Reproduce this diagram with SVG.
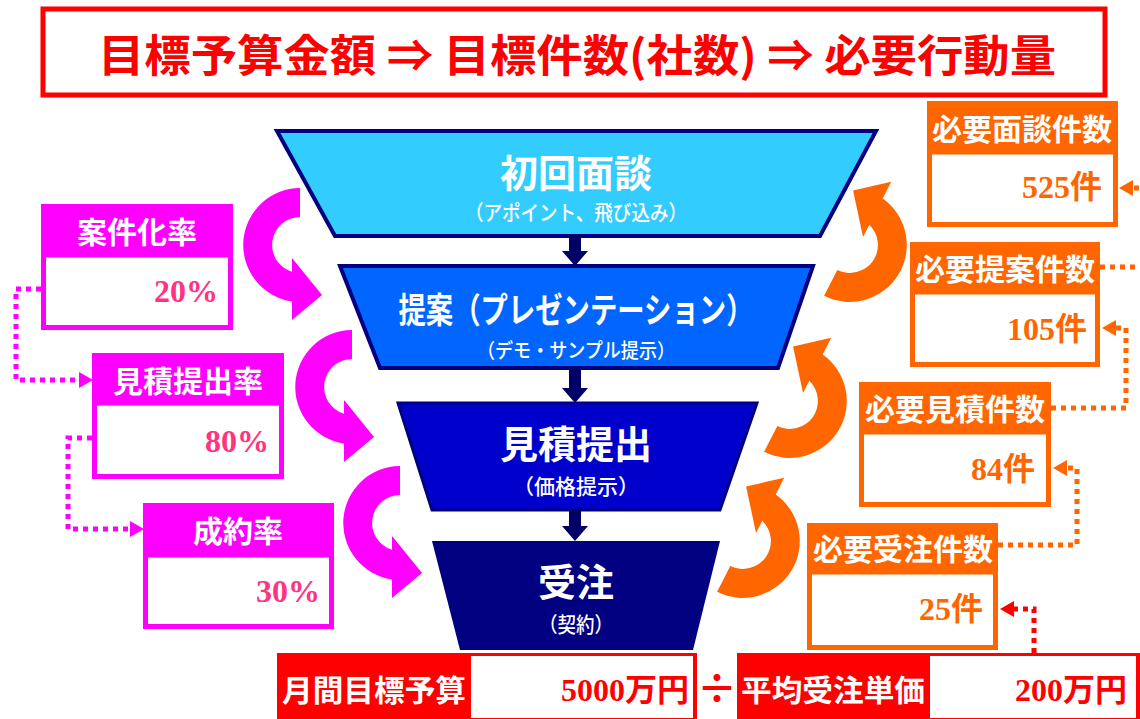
<svg xmlns="http://www.w3.org/2000/svg" width="1140" height="719" viewBox="0 0 1140 719">
<defs>
<style>
.jp{font-family:"Noto Sans CJK JP","Noto Sans CJK SC",sans-serif;}
.hd{font-family:"Noto Sans CJK JP","Noto Sans CJK SC",sans-serif;font-weight:700;fill:#fff;font-size:30px;text-anchor:middle;}
.num{font-family:"Liberation Serif","Noto Sans CJK JP",serif;font-weight:700;font-size:32px;text-anchor:end;}
.ft{font-family:"Noto Sans CJK JP","Noto Sans CJK SC",sans-serif;fill:#fff;text-anchor:middle;}
.dot{fill:none;stroke-width:5;stroke-dasharray:5 5;}
.mbody{fill:#fff;stroke:#FF00FF;stroke-width:5;}
.obody{fill:#fff;stroke:#FF6600;stroke-width:5;}
</style>
<path id="carrow" d="M0,-57 A57,57 0 0 0 -8,56.4 L-8,75 L22,50 L-8,13 L-8,26.8 A28,28 0 0 1 0,-28 Z"/>
<marker id="ahm" markerUnits="userSpaceOnUse" markerWidth="14" markerHeight="16" viewBox="0 0 14 16" refX="0" refY="8" orient="auto"><path d="M0,0 L14,8 L0,16 Z" fill="#FF00FF"/></marker>
<marker id="aho" markerUnits="userSpaceOnUse" markerWidth="14" markerHeight="16" viewBox="0 0 14 16" refX="0" refY="8" orient="auto"><path d="M0,0 L14,8 L0,16 Z" fill="#FF6600"/></marker>
<marker id="ahr" markerUnits="userSpaceOnUse" markerWidth="14" markerHeight="16" viewBox="0 0 14 16" refX="0" refY="8" orient="auto"><path d="M0,0 L14,8 L0,16 Z" fill="#FF0000"/></marker>
</defs>
<rect width="1140" height="719" fill="#fff"/>

<g id="title">
<rect x="43" y="9" width="1062" height="86" fill="#fff" stroke="#FF0000" stroke-width="5"/>
<text class="jp" x="577" y="72" font-size="44" font-weight="700" fill="#FF0000" text-anchor="middle" textLength="958" lengthAdjust="spacingAndGlyphs">目標予算金額 ⇒ 目標件数(社数) ⇒ 必要行動量</text>
</g>

<g id="stage1">
<polygon points="277,131 876,131 820,236 335,236" fill="#33CCFF" stroke="#000080" stroke-width="4"/>
<text class="ft" x="576" y="187" font-size="38" font-weight="700">初回面談</text>
<text class="ft" x="576" y="220" font-size="21" font-weight="500" textLength="222" lengthAdjust="spacingAndGlyphs">（アポイント、飛び込み）</text>
</g>
<g id="stage2">
<polygon points="340,266 813,266 778,368 380,368" fill="#0066FF" stroke="#000080" stroke-width="4"/>
<text class="ft" x="576" y="323" font-size="35" font-weight="700" textLength="355" lengthAdjust="spacingAndGlyphs">提案（プレゼンテーション）</text>
<text class="ft" x="576" y="358" font-size="20" font-weight="500" textLength="198" lengthAdjust="spacingAndGlyphs">（デモ・サンプル提示）</text>
</g>
<g id="stage3">
<polygon points="398,403 757,403 720,510 432,510" fill="#0000CC" stroke="#000080" stroke-width="3"/>
<text class="ft" x="576" y="458" font-size="38" font-weight="700">見積提出</text>
<text class="ft" x="576" y="494" font-size="21" font-weight="500" textLength="126" lengthAdjust="spacingAndGlyphs">（価格提示）</text>
</g>
<g id="stage4">
<polygon points="432,541 720,541 693,650 460,650" fill="#000080"/>
<text class="ft" x="576" y="596" font-size="38" font-weight="700">受注</text>
<text class="ft" x="576" y="632" font-size="21" font-weight="500" textLength="74" lengthAdjust="spacingAndGlyphs">（契約）</text>
</g>

<g id="rate1">
<rect x="41" y="204" width="192" height="52" fill="#FF00FF"/>
<rect class="mbody" x="43.5" y="255" width="187" height="72.5"/>
<text class="hd" x="137" y="243" font-size="32">案件化率</text>
<text class="num" x="218" y="302" fill="#FF3380">20%</text>
</g>
<g id="rate2">
<rect x="92" y="353" width="192" height="51" fill="#FF00FF"/>
<rect class="mbody" x="94.5" y="403" width="187" height="73.5"/>
<text class="hd" x="188" y="392" font-size="32">見積提出率</text>
<text class="num" x="269" y="452" fill="#FF3380">80%</text>
</g>
<g id="rate3">
<rect x="143" y="503" width="191" height="53" fill="#FF00FF"/>
<rect class="mbody" x="145.5" y="555" width="186" height="71.5"/>
<text class="hd" x="238" y="542" font-size="32">成約率</text>
<text class="num" x="320" y="602" fill="#FF3380">30%</text>
</g>

<g id="need1">
<rect x="927" y="101" width="191" height="52" fill="#FF6600"/>
<rect class="obody" x="929.5" y="152" width="186" height="72.5"/>
<text class="hd" x="1022" y="140">必要面談件数</text>
<text class="num" x="1102" y="198" fill="#FF6600">525件</text>
</g>
<g id="need2">
<rect x="910" y="242" width="190" height="51" fill="#FF6600"/>
<rect class="obody" x="912.5" y="292" width="185" height="72.5"/>
<text class="hd" x="1005" y="280">必要提案件数</text>
<text class="num" x="1087" y="340" fill="#FF6600">105件</text>
</g>
<g id="need3">
<rect x="859" y="382" width="192" height="51" fill="#FF6600"/>
<rect class="obody" x="861.5" y="432" width="187" height="72.5"/>
<text class="hd" x="955" y="420">必要見積件数</text>
<text class="num" x="1035" y="480" fill="#FF6600">84件</text>
</g>
<g id="need4">
<rect x="807" y="523" width="191" height="50" fill="#FF6600"/>
<rect class="obody" x="809.5" y="572" width="186" height="75.5"/>
<text class="hd" x="903" y="560">必要受注件数</text>
<text class="num" x="983" y="620" fill="#FF6600">25件</text>
</g>

<g id="budget">
<rect x="277" y="653" width="420" height="70" fill="#FF0000"/>
<rect x="471" y="656" width="222" height="62" fill="#fff"/>
<text class="hd" x="374" y="701" textLength="184" lengthAdjust="spacingAndGlyphs">月間目標予算</text>
<text class="num" x="689" y="701" fill="#FF0000" font-size="30">5000万円</text>
</g>
<g id="divide">
<text class="jp" x="717" y="703" font-size="40" font-weight="700" fill="#FF0000" text-anchor="middle">÷</text>
</g>
<g id="unitprice">
<rect x="737" y="653" width="410" height="70" fill="#FF0000"/>
<rect x="930" y="656" width="206" height="62" fill="#fff"/>
<text class="hd" x="833" y="701" textLength="184" lengthAdjust="spacingAndGlyphs">平均受注単価</text>
<text class="num" x="1127" y="701" fill="#FF0000" font-size="30">200万円</text>
</g>

<g id="connectors">
<g fill="#000066">
<path d="M569,236 H581 V251 H588 L575,266 L562,251 H569 Z"/>
<path d="M569,368 H581 V388 H588 L575,403 L562,388 H569 Z"/>
<path d="M569,510 H581 V526 H588 L575,541 L562,526 H569 Z"/>
</g>
<g fill="#FF00FF">
<use href="#carrow" transform="translate(300,245)"/>
<use href="#carrow" transform="translate(352,387)"/>
<use href="#carrow" transform="translate(400,523)"/>
</g>
<g fill="#FF6600">
<use href="#carrow" transform="translate(850,245) rotate(207)"/>
<use href="#carrow" transform="translate(790,401) rotate(207)"/>
<use href="#carrow" transform="translate(743,541) rotate(207)"/>
</g>
<path class="dot" stroke="#FF00FF" d="M41,289 H16 V380 H79" marker-end="url(#ahm)"/>
<path class="dot" stroke="#FF00FF" d="M92,438 H68 V529 H130" marker-end="url(#ahm)"/>
<path class="dot" stroke="#FF6600" d="M1100,267 H1150 V188 H1133" marker-end="url(#aho)"/>
<path class="dot" stroke="#FF6600" d="M1051,408 H1126 V328 H1116" marker-end="url(#aho)"/>
<path class="dot" stroke="#FF6600" d="M998,545 H1077 V468 H1067" marker-end="url(#aho)"/>
<path class="dot" stroke="#FF0000" d="M1034,653 V609 H1014" marker-end="url(#ahr)"/>
</g>
</svg>
